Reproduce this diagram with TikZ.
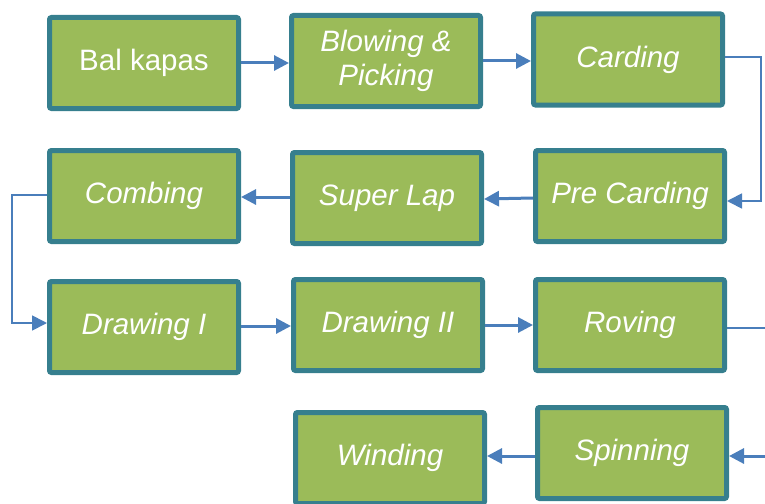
\documentclass[tikz,border=0pt]{standalone}
\usepackage{fontspec}
\setmainfont{Liberation Sans}
\usepackage{xcolor}
\usetikzlibrary{arrows.meta}
\usetikzlibrary{positioning}
\definecolor{boxfill}{HTML}{9BBB59}
\definecolor{boxline}{HTML}{367F8E}
\definecolor{arrowblue}{HTML}{4A7EBB}

\begin{document}
\begin{tikzpicture}
  [x=1pt,y=-1pt,
  every node/.style={rectangle,draw=boxline,fill=boxfill,line width=5pt,
    rounded corners=2pt,minimum width=189pt,minimum height=91pt,
    text=white,align=center,font=\fontsize{29.5}{34}\selectfont\itshape},
  flow/.style={draw=arrowblue,line width=3pt,-{Triangle[length=15pt,width=15pt]}},
  elbow/.style={draw=arrowblue,line width=1.8pt,-{Triangle[length=15pt,width=15pt]}}]

\useasboundingbox (0,0) rectangle (765,503);

\node (bal)   at (144,63)    {\upshape Bal kapas};
\node (blow)  at (386,61)    {Blowing \&\\Picking};
\node (card)  at (628,59.5)  {Carding};
\node (comb)  at (144,196)   {Combing};
\node (super) at (387,198)   {Super Lap};
\node (pre)   at (630,196)   {Pre Carding};
\node (draw1) at (144,327)   {Drawing I};
\node (draw2) at (388,325)   {Drawing II};
\node (rov)   at (630,325)   {Roving};
\node (wind)  at (390,458)   {Winding};
\node (spin)  at (632,453)   {Spinning};

\coordinate (rovout) at (790,328);
\coordinate (spinin) at (790,456);

\draw[flow] (bal.east |- 0,63) -- (blow.west |- 0,63);
\draw[flow] (blow.east) -- (card.west |- blow.east);
\draw[elbow] (card.east |- 0,57) -| (761,201) -- (pre.east |- 0,201);
\draw[flow] (pre.west |- 0,198) -- (super.east |- 0,199);
\draw[flow] (super.west |- 0,197) -- (comb.east |- 0,197);
\draw[elbow] (comb.west |- 0,195) -| (12,323) -- (draw1.west |- 0,323);
\draw[flow] (draw1.east |- 0,326) -- (draw2.west |- 0,326);
\draw[flow] (draw2.east) -- (rov.west |- draw2.east);
\draw[elbow,-] (rov.east |- rovout) -- (rovout) -- (spinin);
\draw[flow] (spinin) -- (spin.east |- spinin);
\draw[flow] (spin.west |- 0,456) -- (wind.east |- 0,456);
\end{tikzpicture}
\end{document}
